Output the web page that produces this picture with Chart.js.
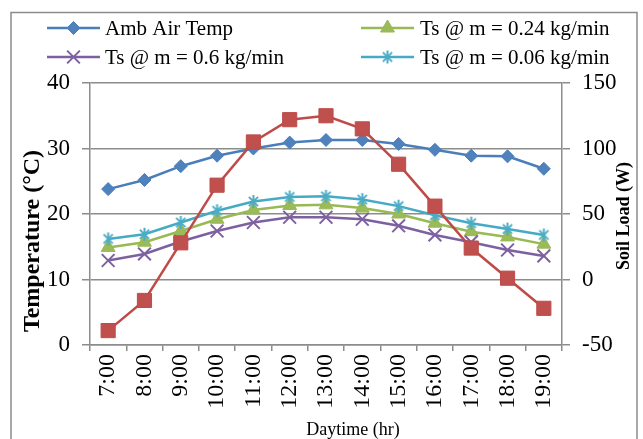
<!DOCTYPE html>
<html>
<head>
<meta charset="utf-8">
<title>Soil temperature and soil load over the day</title>
<script src="https://cdn.jsdelivr.net/npm/chart.js@4"></script>
<style>
  html, body { margin: 0; padding: 0; background: #ffffff; }
  #wrap { width: 643px; height: 439px; }
</style>
</head>
<body>
<div id="wrap"><canvas id="c" width="643" height="439"></canvas></div>
<script>
// Hourly readings, 7:00 to 19:00
const hours = ['7:00', '8:00', '9:00', '10:00', '11:00', '12:00', '13:00',
               '14:00', '15:00', '16:00', '17:00', '18:00', '19:00'];

// Temperatures in °C (left axis)
const ambAirTemp = [23.8, 25.2, 27.3, 28.9, 30.0, 30.9, 31.3, 31.3, 30.7, 29.8, 28.9, 28.8, 26.9];
const tsFlow024  = [14.9, 15.7, 17.4, 19.2, 20.6, 21.3, 21.4, 20.9, 20.0, 18.6, 17.3, 16.5, 15.4];
const tsFlow06   = [12.9, 13.9, 15.8, 17.4, 18.7, 19.5, 19.5, 19.2, 18.2, 16.8, 15.7, 14.5, 13.6];
const tsFlow006  = [16.2, 16.9, 18.7, 20.5, 21.9, 22.6, 22.7, 22.2, 21.2, 19.8, 18.6, 17.7, 16.8];

// Soil load in W (right axis)
const soilLoad = [-39, -16, 28, 72, 105, 122, 125, 115, 88, 56, 24, 1, -22];

// Axis ranges and tick spacing
const tempTicks = { min: 0, max: 40, step: 10 };
const loadTicks = { min: -50, max: 150, step: 50 };

const SERIF = "'Liberation Serif', 'Times New Roman', serif";
const GRID = '#8c8c8c';

// Asterisk marker for the 0.06 kg/min series
function asteriskMarker(color, size, width) {
  const cv = document.createElement('canvas');
  cv.width = size; cv.height = size;
  const g = cv.getContext('2d');
  const c = size / 2, r = size / 2 - 1;
  g.strokeStyle = color;
  g.lineWidth = width;
  g.lineCap = 'butt';
  g.beginPath();
  g.moveTo(c, c - r); g.lineTo(c, c + r);
  const d = r * Math.SQRT1_2;
  g.moveTo(c - d, c - d); g.lineTo(c + d, c + d);
  g.moveTo(c + d, c - d); g.lineTo(c - d, c + d);
  g.stroke();
  return cv;
}
const starImg = asteriskMarker('#4BACC6', 15, 2);

const datasets = [
  {
    label: 'Soil Load', data: soilLoad, yAxisID: 'y1', order: 0, inLegend: false,
    borderColor: '#BE4B48', backgroundColor: '#C0504D', borderWidth: 2.5,
    pointStyle: 'rect', pointRadius: 10, pointHoverRadius: 10,
    pointBackgroundColor: '#C0504D', pointBorderColor: '#BE4B48', pointBorderWidth: 1
  },
  {
    label: 'Amb Air Temp', data: ambAirTemp, yAxisID: 'y', order: 4, inLegend: true,
    borderColor: '#4A7EBB', backgroundColor: '#4F81BD', borderWidth: 2.5,
    pointStyle: 'rectRot', pointRadius: 6.5, pointHoverRadius: 6.5,
    pointBackgroundColor: '#4F81BD', pointBorderColor: '#4A7EBB', pointBorderWidth: 1
  },
  {
    label: 'Ts @ m = 0.24 kg/min', data: tsFlow024, yAxisID: 'y', order: 3, inLegend: true,
    borderColor: '#98B954', backgroundColor: '#9BBB59', borderWidth: 2.5,
    pointStyle: 'triangle', pointRadius: 8, pointHoverRadius: 8,
    pointBackgroundColor: '#9BBB59', pointBorderColor: '#98B954', pointBorderWidth: 1
  },
  {
    label: 'Ts @ m = 0.6 kg/min', data: tsFlow06, yAxisID: 'y', order: 2, inLegend: true,
    borderColor: '#7D60A0', backgroundColor: '#8064A2', borderWidth: 2.5,
    pointStyle: 'crossRot', pointRadius: 9, pointHoverRadius: 9,
    pointBackgroundColor: '#8064A2', pointBorderColor: '#7D60A0', pointBorderWidth: 2
  },
  {
    label: 'Ts @ m = 0.06 kg/min', data: tsFlow006, yAxisID: 'y', order: 1, inLegend: true,
    borderColor: '#46AAC5', backgroundColor: '#4BACC6', borderWidth: 2.5,
    pointStyle: starImg, pointRadius: 7.5, pointHoverRadius: 7.5,
    pointBackgroundColor: '#4BACC6', pointBorderColor: '#46AAC5', pointBorderWidth: 1
  }
];

function drawVerticalText(ctx, text, x, y, font) {
  ctx.save();
  ctx.translate(x, y);
  ctx.rotate(-Math.PI / 2);
  ctx.fillStyle = '#000000';
  ctx.font = font;
  ctx.textAlign = 'center';
  ctx.textBaseline = 'middle';
  ctx.fillText(text, 0, 0);
  ctx.restore();
}

// Frame, two-column legend and the axis titles
const decor = {
  id: 'decor',
  beforeDraw(chart) {
    const ctx = chart.ctx;
    ctx.save();
    ctx.fillStyle = '#ffffff';
    ctx.fillRect(0, 0, chart.width, chart.height);
    ctx.restore();
  },
  afterDraw(chart) {
    const ctx = chart.ctx;
    const area = chart.chartArea;
    ctx.save();

    // outer frame
    ctx.strokeStyle = GRID;
    ctx.lineWidth = 1.5;
    ctx.strokeRect(11, 12.5, 626, 470);

    // legend: two columns, filled row by row
    const cols = [{ x0: 47, x1: 100, tx: 105 }, { x0: 361, x1: 414, tx: 420 }];
    const rows = [28, 57];
    const entries = chart.data.datasets.filter(d => d.inLegend);
    entries.forEach((ds, i) => {
      const col = cols[i % 2];
      const y = rows[Math.floor(i / 2)];
      ctx.strokeStyle = ds.borderColor;
      ctx.lineWidth = ds.borderWidth;
      ctx.beginPath();
      ctx.moveTo(col.x0, y);
      ctx.lineTo(col.x1, y);
      ctx.stroke();
      const mx = (col.x0 + col.x1) / 2;
      ctx.fillStyle = ds.pointBackgroundColor;
      ctx.strokeStyle = ds.pointBorderColor;
      ctx.lineWidth = ds.pointBorderWidth;
      Chart.helpers.drawPoint(ctx, {
        pointStyle: ds.pointStyle, radius: ds.pointRadius, rotation: 0,
        borderWidth: ds.pointBorderWidth
      }, mx, y);
      ctx.fillStyle = '#000000';
      ctx.font = '21px ' + SERIF;
      ctx.textAlign = 'left';
      ctx.textBaseline = 'middle';
      ctx.fillText(ds.label, col.tx, y + 1);
    });

    // left axis title
    drawVerticalText(ctx, 'Temperature (°C)', 33, 241, 'bold 24px ' + SERIF);
    // right axis title
    drawVerticalText(ctx, 'Soil Load (W)', 624, (area.top + area.bottom) / 2 + 2, 'bold 18px ' + SERIF);

    // bottom axis title
    ctx.fillStyle = '#000000';
    ctx.font = '18px ' + SERIF;
    ctx.textAlign = 'center';
    ctx.textBaseline = 'middle';
    ctx.fillText('Daytime (hr)', 353, 430);

    ctx.restore();
  }
};

new Chart(document.getElementById('c'), {
  type: 'line',
  data: { labels: hours, datasets: datasets },
  plugins: [decor],
  options: {
    responsive: false,
    animation: false,
    devicePixelRatio: 1,
    layout: { padding: { top: 83, left: 0, right: 0, bottom: 0 } },
    elements: { line: { tension: 0 } },
    plugins: { legend: { display: false }, tooltip: { enabled: false } },
    scales: {
      x: {
        type: 'category',
        offset: true,
        grid: { offset: true, drawOnChartArea: false, drawTicks: true, tickLength: 6, color: GRID, lineWidth: 1.5 },
        border: { color: GRID, width: 1.5 },
        ticks: {
          autoSkip: false, maxRotation: 90, minRotation: 90, padding: 3,
          color: '#000000', font: { family: SERIF, size: 24 }
        },
        afterFit(s) { s.height = 94; }
      },
      y: {
        position: 'left',
        min: tempTicks.min, max: tempTicks.max,
        grid: { color: GRID, lineWidth: 1.5, drawTicks: true, tickLength: 8 },
        border: { color: GRID, width: 1.5 },
        ticks: { stepSize: tempTicks.step, padding: 12, color: '#000000', font: { family: SERIF, size: 23 } },
        afterFit(s) { s.width = 90; }
      },
      y1: {
        position: 'right',
        min: loadTicks.min, max: loadTicks.max,
        grid: { drawOnChartArea: false, color: GRID, lineWidth: 1.5, drawTicks: true, tickLength: 8 },
        border: { color: GRID, width: 1.5 },
        ticks: { stepSize: loadTicks.step, padding: 12, color: '#000000', font: { family: SERIF, size: 23 } },
        afterFit(s) { s.width = 81; }
      }
    }
  }
});
</script>
</body>
</html>
